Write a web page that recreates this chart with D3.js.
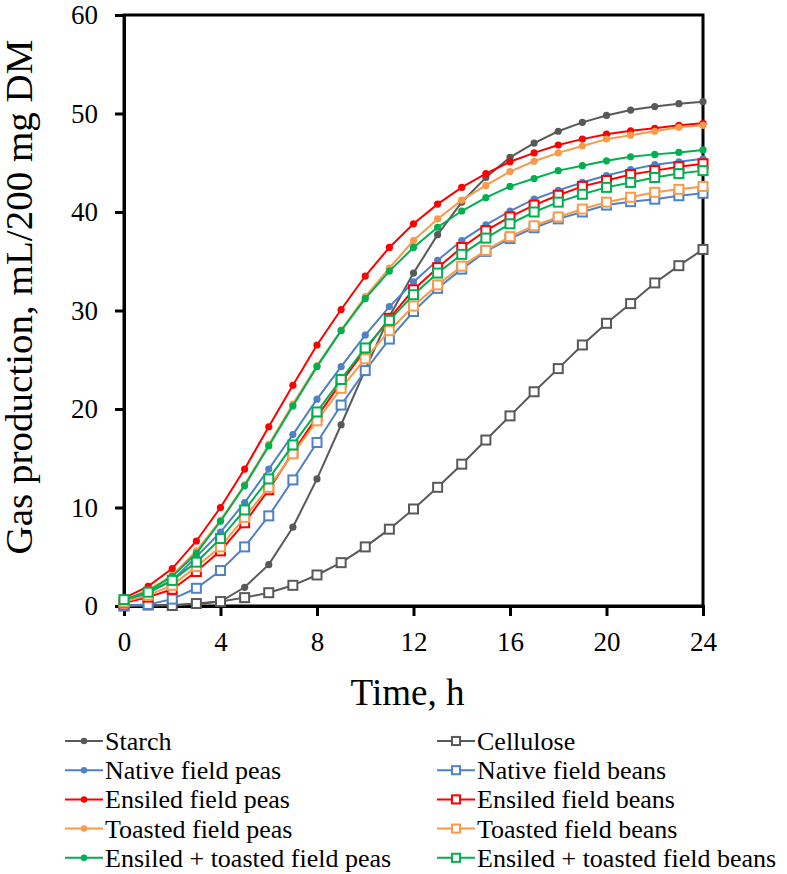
<!DOCTYPE html>
<html><head><meta charset="utf-8">
<script src="https://cdn.jsdelivr.net/npm/d3@7"></script>
<style>body{margin:0;background:#fff}svg{display:block}text{font-family:"Liberation Serif","Times New Roman",serif;fill:#000}</style>
</head><body><svg id="c" width="787" height="874"></svg>
<script>
const hours = [0,1,2,3,4,5,6,7,8,9,10,11,12,13,14,15,16,17,18,19,20,21,22,23,24];
const xTicks = [0,4,8,12,16,20,24];
const yTicks = [0,10,20,30,40,50,60];
const seriesNames = ["Starch","Cellulose","Native field peas","Native field beans","Ensiled field peas","Ensiled field beans","Toasted field peas","Toasted field beans","Ensiled + toasted field peas","Ensiled + toasted field beans"];
const seriesColors = ["#595959","#595959","#4F81C7","#4F81C7","#FF0000","#FF0000","#F79A4A","#F79A4A","#00B050","#00B050"];
const seriesMarkers = ["circle","square","circle","square","circle","square","circle","square","circle","square"];
const starch = [0,0.05,0.1,0.2,0.45,1.9,4.2,8.0,12.9,18.4,24.0,29.4,33.8,37.7,41.0,43.5,45.55,47.0,48.2,49.1,49.8,50.35,50.7,51.0,51.2];
const cellulose = [0,0.1,0.05,0.25,0.45,0.85,1.35,2.1,3.15,4.4,6.0,7.8,9.85,12.05,14.4,16.85,19.3,21.75,24.1,26.5,28.7,30.7,32.8,34.55,36.2];
const nativePeas = [0.4,1.3,2.6,5.0,7.5,10.5,13.9,17.4,21.0,24.3,27.5,30.4,32.9,35.1,37.1,38.7,40.1,41.3,42.2,43.0,43.7,44.3,44.8,45.1,45.4];
const nativeBeans = [0.05,0.15,0.7,1.8,3.6,6.0,9.15,12.8,16.6,20.4,23.9,27.1,29.9,32.25,34.2,36.0,37.3,38.4,39.3,40.0,40.7,41.05,41.3,41.65,41.9];
const ensiledPeas = [0.8,2.0,3.8,6.6,10.0,13.9,18.2,22.4,26.5,30.1,33.5,36.4,38.8,40.8,42.5,43.9,45.1,46.0,46.8,47.4,47.9,48.25,48.5,48.8,49.0];
const ensiledBeans = [0.3,0.9,1.7,3.5,5.6,8.45,11.8,15.6,19.2,22.7,26.0,29.2,32.1,34.35,36.4,38.1,39.5,40.7,41.7,42.6,43.2,43.8,44.2,44.6,44.9];
const toastedPeas = [0.6,1.6,3.1,5.6,8.7,12.3,16.4,20.5,24.4,28.0,31.4,34.3,37.1,39.3,41.2,42.7,44.1,45.15,46.0,46.7,47.4,47.8,48.2,48.6,48.8];
const toastedBeans = [0.4,1.1,2.1,4.0,6.0,9.0,12.05,15.45,18.8,22.1,25.1,27.95,30.45,32.6,34.5,36.1,37.5,38.6,39.5,40.3,41.0,41.5,42.0,42.3,42.6];
const etPeas = [0.6,1.5,3.0,5.35,8.6,12.2,16.25,20.3,24.3,27.95,31.2,34.0,36.4,38.45,40.1,41.45,42.6,43.4,44.2,44.7,45.2,45.6,45.85,46.05,46.3];
const etBeans = [0.65,1.4,2.6,4.45,6.85,9.75,12.9,16.35,19.7,23.0,26.2,29.0,31.6,33.8,35.7,37.35,38.8,40.0,41.0,41.8,42.5,43.0,43.5,43.9,44.2];
const seriesValues = [starch,cellulose,nativePeas,nativeBeans,ensiledPeas,ensiledBeans,toastedPeas,toastedBeans,etPeas,etBeans];

const SERIF = "'Liberation Serif','Times New Roman',serif";
const svg = d3.select("#c");
const L = 124, R = 703, T = 15, B = 606;
const x = d3.scaleLinear().domain([0,24]).range([L,R]);
const y = d3.scaleLinear().domain([0,60]).range([B,T]);

svg.append("rect").attr("x",L).attr("y",T).attr("width",R-L).attr("height",B-T)
  .attr("fill","none").attr("stroke","#000").attr("stroke-width",3);

const xa = svg.append("g").attr("transform",`translate(0,${B})`)
  .call(d3.axisBottom(x).tickValues(xTicks).tickSize(10).tickPadding(16).tickFormat(d3.format("d")));
const ya = svg.append("g").attr("transform",`translate(${L},0)`)
  .call(d3.axisLeft(y).tickValues(yTicks).tickSize(9).tickPadding(17).tickFormat(d3.format("d")));
[xa,ya].forEach(g=>{
  g.attr("font-family",SERIF).attr("font-size",27);
  g.select(".domain").attr("stroke","#000").attr("stroke-width",3);
  g.selectAll(".tick line").attr("stroke","#000").attr("stroke-width",3);
  g.selectAll(".tick text").style("font-family",SERIF).style("font-size","27px").attr("fill","#000");
});

svg.append("text").attr("x",(L+R)/2-6).attr("y",705).attr("text-anchor","middle")
  .style("font-family",SERIF).style("font-size","37px").text("Time, h");
svg.append("text").attr("transform",`translate(32,297) rotate(-90)`).attr("text-anchor","middle")
  .style("font-family",SERIF).style("font-size","37px")
  .attr("textLength",515).attr("lengthAdjust","spacingAndGlyphs")
  .text("Gas production, mL/200 mg DM");

const line = d3.line().x((d,i)=>x(hours[i])).y(d=>y(d));
function marker(g, type, color, cx, cy, s){
  s = s || 1;
  if(type==="circle") g.append("circle").attr("cx",cx).attr("cy",cy).attr("r",3.6*s).attr("fill",color);
  else g.append("rect").attr("x",cx-4.5*s).attr("y",cy-4.5*s).attr("width",9*s).attr("height",9*s)
    .attr("fill","#fff").attr("stroke",color).attr("stroke-width",2);
}
seriesValues.forEach((vals,si)=>{
  const g = svg.append("g");
  g.append("path").attr("d",line(vals)).attr("fill","none").attr("stroke",seriesColors[si]).attr("stroke-width",2);
  vals.forEach((v,i)=>marker(g, seriesMarkers[si], seriesColors[si], x(hours[i]), y(v)));
});

const lg = svg.append("g");
seriesNames.forEach((name,i)=>{
  const col = i%2, row = Math.floor(i/2);
  const lx = col===0 ? 65 : 437, cy = 741 + row*29.2;
  lg.append("line").attr("x1",lx).attr("x2",lx+38).attr("y1",cy).attr("y2",cy).attr("stroke",seriesColors[i]).attr("stroke-width",2);
  marker(lg, seriesMarkers[i], seriesColors[i], lx+19, cy, 0.9);
  lg.append("text").attr("x",lx+40).attr("y",cy+9).style("font-family",SERIF).style("font-size","26px").text(name);
});
</script></body></html>
